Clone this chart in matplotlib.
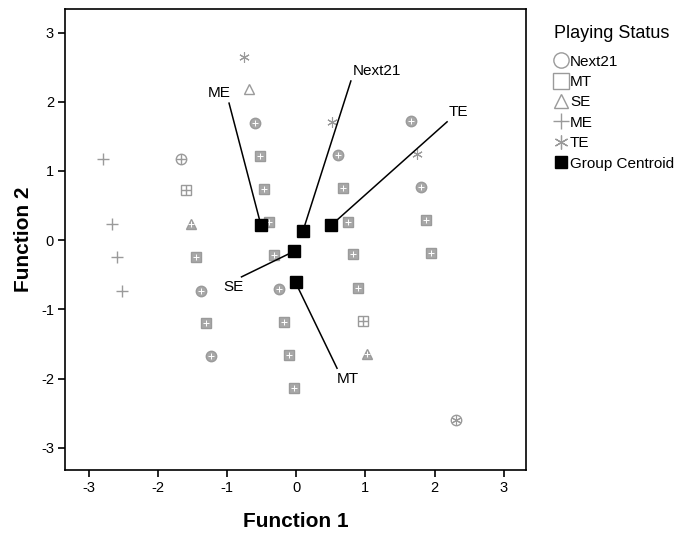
import numpy as np
import matplotlib.pyplot as plt
from matplotlib.lines import Line2D

plt.rcParams['font.family'] = ['Liberation Sans', 'DejaVu Sans']
plt.rcParams['axes.unicode_minus'] = False

# case scores per group (Function 1, Function 2); full = looks filled (overlapping cases)
next21_x = [-0.59, -1.66, 0.61, 1.66, 1.81, -1.37, -0.25, -1.23, 2.31]
next21_y = [1.69, 1.18, 1.23, 1.72, 0.77, -0.74, -0.71, -1.68, -2.60]
next21_full = [1, 0, 1, 1, 1, 1, 1, 1, 0]

mt_x = [-0.53, -1.59, -0.46, -0.39, 0.68, 0.75, 1.88, -1.45, -0.32, 0.82, 1.95,
        0.90, 0.97, -1.30, -0.17, -0.10, -0.03]
mt_y = [1.21, 0.72, 0.74, 0.26, 0.75, 0.26, 0.29, -0.25, -0.22, -0.20, -0.19,
        -0.69, -1.17, -1.20, -1.18, -1.66, -2.14]
mt_full = [1, 0, 1, 1, 1, 1, 1, 1, 1, 1, 1, 1, 0, 1, 1, 1, 1]

se_x = [-0.68, -1.52, 1.03]
se_y = [2.18, 0.23, -1.65]
se_full = [0, 1, 1]

me_x = [-2.79, -2.66, -2.59, -2.51]
me_y = [1.18, 0.23, -0.25, -0.74]

te_x = [-0.75, 0.52, 1.75]
te_y = [2.64, 1.71, 1.24]

# inner plus / star overlaps inside outlined symbols
plus_in_x = [-1.66, -1.59, 0.97]
plus_in_y = [1.18, 0.72, -1.17]
star_in_x = [2.31]
star_in_y = [-2.60]

groups = ['Next21', 'MT', 'SE', 'ME', 'TE']
cent_x = [0.10, -0.01, -0.03, -0.51, 0.51]
cent_y = [0.14, -0.61, -0.16, 0.22, 0.22]
label_x = [1.16, 0.75, -0.91, -1.11, 2.34]
label_y = [2.44, -2.01, -0.68, 2.12, 1.85]
line_x = [0.79, 0.59, -0.79, -0.97, 2.18]
line_y = [2.30, -1.85, -0.53, 1.98, 1.71]

grey = '#9a9a9a'
star = (6, 2, 0)
fig = plt.figure(figsize=(6.74, 5.35), dpi=100)
ax = fig.add_axes([65/674, 1-470/535, 461/674, 461/535])

def shapes(xs, ys, full, marker, ms):
    xs = np.array(xs); ys = np.array(ys); full = np.array(full, dtype=bool)
    ax.plot(xs[~full], ys[~full], ls='none', marker=marker, ms=ms, mfc='white',
            mec=grey, mew=1.0, zorder=2)
    ax.plot(xs[full], ys[full], ls='none', marker=marker, ms=ms, mfc='#a8a8a8',
            mec=grey, mew=1.0, zorder=2)
    ax.plot(xs[full], ys[full], ls='none', marker='+', ms=ms*0.55, mec='white',
            mew=0.7, zorder=3)

shapes(next21_x, next21_y, next21_full, 'o', 7.5)
shapes(mt_x, mt_y, mt_full, 's', 7)
shapes(se_x, se_y, se_full, '^', 7)
ax.plot(me_x, me_y, ls='none', marker='+', ms=8, mec=grey, mew=1.0, zorder=2)
ax.plot(te_x, te_y, ls='none', marker=star, ms=7.5, mec=grey, mew=0.8, zorder=2)
ax.plot(plus_in_x, plus_in_y, ls='none', marker='+', ms=7, mec=grey, mew=1.0, zorder=3)
ax.plot(star_in_x, star_in_y, ls='none', marker=star, ms=7, mec=grey, mew=0.8, zorder=3)

for i, g in enumerate(groups):
    ax.plot([cent_x[i], line_x[i]], [cent_y[i], line_y[i]], color='black', lw=1.1, zorder=4)
    ax.text(label_x[i], label_y[i], g, fontsize=11, ha='center', va='center', zorder=5)
ax.plot(cent_x, cent_y, ls='none', marker='s', ms=8.5, color='black', zorder=6)

ax.set_xlim(-3.34, 3.32)
ax.set_ylim(-3.32, 3.34)
ax.set_xticks(range(-3, 4))
ax.set_yticks(range(-3, 4))
ax.tick_params(direction='out', length=5, width=1.2, labelsize=10.5, pad=3)
for s in ax.spines.values():
    s.set_linewidth(1.2)
ax.set_xlabel('Function 1', fontsize=15, fontweight='bold', labelpad=12)
ax.set_ylabel('Function 2', fontsize=15, fontweight='bold', labelpad=6)

handles = [
    Line2D([], [], ls='none', marker='o', ms=11, mfc='white', mec=grey, mew=1.0),
    Line2D([], [], ls='none', marker='s', ms=11, mfc='white', mec=grey, mew=1.0),
    Line2D([], [], ls='none', marker='^', ms=10, mfc='white', mec=grey, mew=1.0),
    Line2D([], [], ls='none', marker='+', ms=12, mec=grey, mew=1.0),
    Line2D([], [], ls='none', marker=star, ms=10, mec=grey, mew=0.9),
    Line2D([], [], ls='none', marker='s', ms=8, color='black'),
]
leg = fig.legend(handles, groups + ['Group Centroid'], loc='upper left',
                 bbox_to_anchor=(554/674, 1-25/535), frameon=False, fontsize=11,
                 title='Playing Status', title_fontsize=13, handlelength=0.9,
                 handletextpad=0.15, labelspacing=0.42, borderpad=0, borderaxespad=0)
leg._legend_box.align = 'left'
leg._legend_box.sep = 9

fig.savefig('out.png', dpi=100)
